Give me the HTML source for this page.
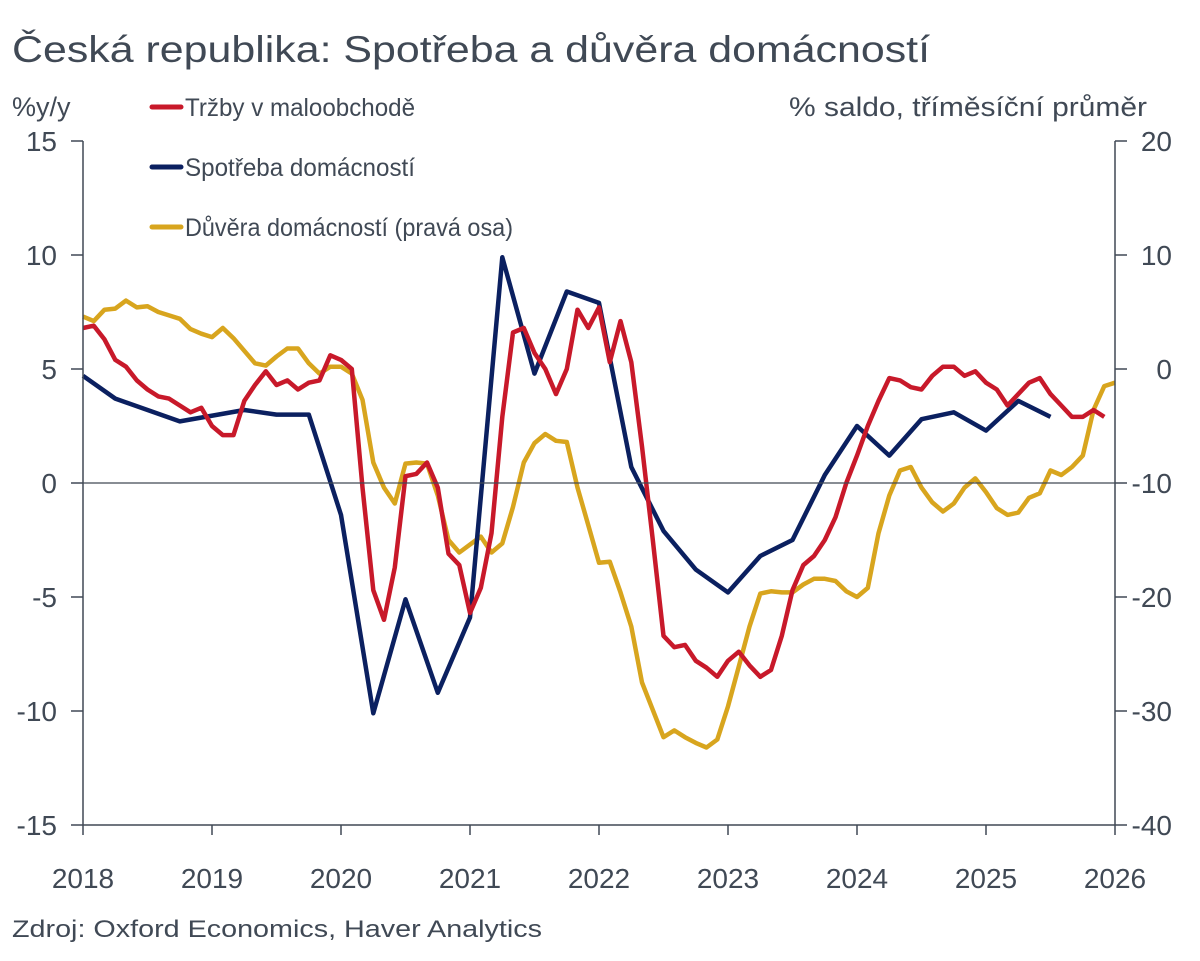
<!DOCTYPE html>
<html><head><meta charset="utf-8"><style>
html,body{margin:0;padding:0;background:#fff;}
svg{display:block;font-family:"Liberation Sans",sans-serif;}
</style></head><body>
<svg id="chart" width="1200" height="961">
<text x="12" y="62" font-size="37" fill="#404955" textLength="918" lengthAdjust="spacingAndGlyphs">Česká republika: Spotřeba a důvěra domácností</text>
<text x="12" y="116" font-size="27" fill="#404955">%y/y</text>
<text x="1147" y="116" font-size="27" fill="#404955" text-anchor="end" textLength="358" lengthAdjust="spacingAndGlyphs">% saldo, tříměsíční průměr</text>
<g>
<line x1="152" y1="107" x2="181" y2="107" stroke="#c8192a" stroke-width="5" stroke-linecap="round"/>
<text x="185" y="116" font-size="25" fill="#404955" textLength="230" lengthAdjust="spacingAndGlyphs">Tržby v maloobchodě</text>
<line x1="152" y1="167" x2="181" y2="167" stroke="#0b2060" stroke-width="5" stroke-linecap="round"/>
<text x="185" y="176" font-size="25" fill="#404955" textLength="230" lengthAdjust="spacingAndGlyphs">Spotřeba domácností</text>
<line x1="152" y1="227" x2="181" y2="227" stroke="#d8a51e" stroke-width="5" stroke-linecap="round"/>
<text x="185" y="236" font-size="25" fill="#404955" textLength="328" lengthAdjust="spacingAndGlyphs">Důvěra domácností (pravá osa)</text>
</g>
<g id="axes"></g>
<g id="series"></g>
<text x="12" y="937" font-size="24" fill="#404955" textLength="530" lengthAdjust="spacingAndGlyphs">Zdroj: Oxford Economics, Haver Analytics</text>
</svg>
<script>
const years = [2018,2019,2020,2021,2022,2023,2024,2025,2026];
const leftTicks = [15,10,5,0,-5,-10,-15];
const rightTicks = [20,10,0,-10,-20,-30,-40];
const retailValues = [6.8,6.9,6.3,5.4,5.1,4.5,4.1,3.8,3.7,3.4,3.1,3.3,2.5,2.1,2.1,3.6,4.3,4.9,4.3,4.5,4.1,4.4,4.5,5.6,5.4,5.0,-0.2,-4.7,-6.0,-3.7,0.3,0.4,0.9,-0.2,-3.1,-3.6,-5.7,-4.6,-2.2,2.9,6.6,6.8,5.7,5.0,3.9,5.0,7.6,6.8,7.7,5.3,7.1,5.3,1.6,-2.5,-6.7,-7.2,-7.1,-7.8,-8.1,-8.5,-7.8,-7.4,-8.0,-8.5,-8.2,-6.7,-4.7,-3.6,-3.2,-2.5,-1.5,0,1.2,2.5,3.6,4.6,4.5,4.2,4.1,4.7,5.1,5.1,4.7,4.9,4.4,4.1,3.4,3.9,4.4,4.6,3.9,3.4,2.9,2.9,3.2,2.9];
const consumptionMonths = [0,3,9,15,18,21,24,27,30,33,36,39,42,45,48,51,54,57,60,63,66,69,72,75,78,81,84,87,90];
const consumptionValues = [4.7,3.7,2.7,3.2,3.0,3.0,-1.4,-10.1,-5.1,-9.2,-5.9,9.9,4.8,8.4,7.9,0.7,-2.1,-3.8,-4.8,-3.2,-2.5,0.35,2.5,1.2,2.8,3.1,2.3,3.6,2.9];
const confidenceValues = [4.6,4.2,5.2,5.3,6.0,5.4,5.5,5.0,4.7,4.4,3.5,3.1,2.8,3.6,2.7,1.6,0.5,0.3,1.1,1.8,1.8,0.5,-0.4,0.2,0.2,-0.4,-2.7,-8.2,-10.4,-11.8,-8.3,-8.2,-8.3,-11.1,-15.0,-16.1,-15.4,-14.7,-16.1,-15.3,-12.1,-8.2,-6.5,-5.7,-6.3,-6.4,-10.4,-13.7,-17.0,-16.9,-19.6,-22.6,-27.5,-29.9,-32.3,-31.7,-32.3,-32.8,-33.2,-32.5,-29.6,-26.1,-22.6,-19.7,-19.5,-19.6,-19.6,-18.9,-18.4,-18.4,-18.6,-19.5,-20.0,-19.2,-14.4,-11.1,-8.9,-8.6,-10.4,-11.7,-12.5,-11.8,-10.4,-9.6,-10.8,-12.2,-12.8,-12.6,-11.3,-10.9,-8.9,-9.3,-8.6,-7.6,-3.6,-1.5,-1.2];

const NS='http://www.w3.org/2000/svg';
const X0=83, X1=1115, YT=141, YB=825;
const xm = m => X0 + (X1-X0)*m/96;
const yl = v => YB - (v+15)/30*(YB-YT);
const yr = v => YB - (v+40)/60*(YB-YT);
function mk(tag, attrs, parent){const e=document.createElementNS(NS,tag);for(const k in attrs)e.setAttribute(k,attrs[k]);parent.appendChild(e);return e;}
const ax=document.getElementById('axes'), se=document.getElementById('series');
const axc='#404955';
let e;
e=mk('line',{x1:X0,y1:YT,x2:X0,y2:YB,stroke:axc,'stroke-width':1.5},ax);


e=mk('line',{x1:X1,y1:YT,x2:X1,y2:YB,stroke:axc,'stroke-width':1.5},ax);


e=mk('line',{x1:X0,y1:YB,x2:X1,y2:YB,stroke:axc,'stroke-width':1.5},ax);


e=mk('line',{x1:X0,y1:yl(0),x2:X1,y2:yl(0),stroke:axc,'stroke-width':1.2},ax);


leftTicks.forEach(v=>{
  mk('line',{x1:X0-12,y1:yl(v),x2:X0,y2:yl(v),stroke:axc,'stroke-width':1.5},ax);
  const t=mk('text',{x:57,y:yl(v)+10,'font-size':28,fill:axc,'text-anchor':'end'},ax);
  t.textContent=String(v);
  
  
});
rightTicks.forEach(v=>{
  mk('line',{x1:X1,y1:yr(v),x2:X1+12,y2:yr(v),stroke:axc,'stroke-width':1.5},ax);
  const t=mk('text',{x:1172,y:yr(v)+10,'font-size':28,fill:axc,'text-anchor':'end'},ax);
  t.textContent=String(v);
  
  
});
years.forEach((y,i)=>{
  const x=xm(i*12);
  mk('line',{x1:x,y1:YB,x2:x,y2:YB+10,stroke:axc,'stroke-width':1.5},ax);
  const t=mk('text',{x:x,y:YB+63,'font-size':28,fill:axc,'text-anchor':'middle'},ax);
  t.textContent=String(y);
  
  
});
function path(pts){return pts.map((p,i)=>(i?'L':'M')+p[0].toFixed(1)+' '+p[1].toFixed(1)).join(' ');}
e=mk('path',{d:path(confidenceValues.map((v,i)=>[xm(i),yr(v)])),fill:'none',stroke:'#d8a51e','stroke-width':4.5,'stroke-linejoin':'round'},se);


e=mk('path',{d:path(consumptionValues.map((v,i)=>[xm(consumptionMonths[i]),yl(v)])),fill:'none',stroke:'#0b2060','stroke-width':4.5,'stroke-linejoin':'round'},se);


e=mk('path',{d:path(retailValues.map((v,i)=>[xm(i),yl(v)])),fill:'none',stroke:'#c8192a','stroke-width':4.5,'stroke-linejoin':'round'},se);


se.parentNode.insertBefore(se, ax);
</script>
</body></html>
